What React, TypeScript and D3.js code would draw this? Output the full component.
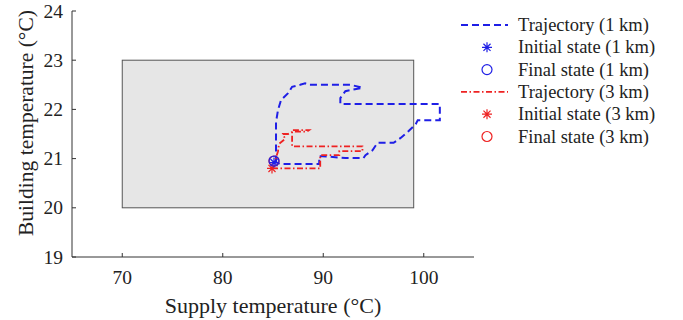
import React from "react";
import * as d3 from "d3";

const xTicks = [70, 80, 90, 100];
const yTicks = [19, 20, 21, 22, 23, 24];
const comfortX = [70, 99];
const comfortY = [20, 23];

const blueX = [85.2, 85.3, 85.3, 85.5, 85.8, 86.5, 86.9, 87.7, 88.2, 88.6, 92.7, 93.9, 92.2, 91.7, 91.7, 101.6, 101.6, 99.4, 99.2, 98.5, 97.7, 97.0, 95.4, 94.9, 94.2, 94.0, 92.2, 89.9, 89.6, 89.6, 85.7, 85.1];
const blueY = [20.93, 20.95, 21.74, 21.99, 22.19, 22.33, 22.46, 22.50, 22.53, 22.50, 22.50, 22.44, 22.37, 22.23, 22.11, 22.11, 21.78, 21.78, 21.70, 21.56, 21.42, 21.32, 21.32, 21.17, 21.07, 21.01, 21.01, 21.05, 21.05, 20.89, 20.89, 20.95];

const redX = [84.9, 89.7, 89.7, 91.6, 91.6, 93.9, 93.9, 86.9, 86.9, 88.6, 88.4, 87.0, 86.5, 86.0, 86.2, 85.6, 85.5, 85.2];
const redY = [20.80, 20.80, 21.07, 21.07, 21.15, 21.15, 21.25, 21.25, 21.58, 21.58, 21.55, 21.55, 21.50, 21.50, 21.40, 21.30, 21.15, 20.95];

const initial1 = [85.1, 20.92];
const final1 = [85.1, 20.95];
const initial3 = [84.9, 20.80];
const final3 = [85.1, 20.95];

const legendLabels = [
  "Trajectory (1 km)",
  "Initial state (1 km)",
  "Final state (1 km)",
  "Trajectory (3 km)",
  "Initial state (3 km)",
  "Final state (3 km)",
];

const BLUE = "#1f1fe6";
const RED = "#ee2222";
const FONT = "'Liberation Serif', 'Times New Roman', serif";

function Asterisk({ cx, cy, r, color }: { cx: number; cy: number; r: number; color: string }) {
  const d: string[] = [];
  for (let i = 0; i < 4; i++) {
    const a = (i * Math.PI) / 4;
    const dx = Math.cos(a) * r;
    const dy = Math.sin(a) * r;
    d.push(`M${cx - dx},${cy - dy}L${cx + dx},${cy + dy}`);
  }
  return <path d={d.join("")} stroke={color} strokeWidth={1.2} fill="none" />;
}

export default function App() {
  const W = 683;
  const H = 320;
  const x = d3.scaleLinear().domain([65, 105]).range([72, 474]);
  const y = d3.scaleLinear().domain([19, 24]).range([257, 11]);

  const line = d3
    .line<[number, number]>()
    .x((d) => x(d[0]))
    .y((d) => y(d[1]));

  const bluePts = blueX.map((v, i) => [v, blueY[i]] as [number, number]);
  const redPts = redX.map((v, i) => [v, redY[i]] as [number, number]);

  const axisColor = "#333";
  const legendX = 518;
  const legendY0 = 25;
  const legendStep = 22.3;

  return (
    <svg width={W} height={H} style={{ position: "absolute", left: 0, top: 0, background: "#fff" }}>
      <rect x={0} y={0} width={W} height={H} fill="#fff" />
      {/* comfort region */}
      <rect
        x={x(comfortX[0])}
        y={y(comfortY[1])}
        width={x(comfortX[1]) - x(comfortX[0])}
        height={y(comfortY[0]) - y(comfortY[1])}
        fill="#e6e6e6"
        stroke="#555"
        strokeWidth={1}
      />
      {/* axes */}
      <line x1={x(65)} x2={x(105)} y1={y(19)} y2={y(19)} stroke={axisColor} strokeWidth={1} />
      <line x1={x(65)} x2={x(65)} y1={y(19)} y2={y(24)} stroke={axisColor} strokeWidth={1} />
      {xTicks.map((t) => (
        <g key={"xt" + t}>
          <line x1={x(t)} x2={x(t)} y1={y(19)} y2={y(19) - 4} stroke={axisColor} />
          <text
            x={x(t)}
            y={284}
            textAnchor="middle"
            fontFamily={FONT}
            fontSize={19.5}
            fill="#222"
          >
            {t}
          </text>
        </g>
      ))}
      {yTicks.map((t) => (
        <g key={"yt" + t}>
          <line x1={x(65)} x2={x(65) + 4} y1={y(t)} y2={y(t)} stroke={axisColor} />
          <text
            x={63}
            y={y(t) + 6.5}
            textAnchor="end"
            fontFamily={FONT}
            fontSize={19.5}
            fill="#222"
          >
            {t}
          </text>
        </g>
      ))}
      <text x={273} y={313} textAnchor="middle" fontFamily={FONT} fontSize={22} fill="#222">
        Supply temperature (°C)
      </text>
      <text
        transform={`translate(33,${123}) rotate(-90)`}
        textAnchor="middle"
        fontFamily={FONT}
        fontSize={21.5}
        fill="#222"
      >
        Building temperature (°C)
      </text>

      {/* trajectories */}
      <path d={line(bluePts) || ""} fill="none" stroke={BLUE} strokeWidth={2} strokeDasharray="7,4" />
      <path d={line(redPts) || ""} fill="none" stroke={RED} strokeWidth={1.8} strokeDasharray="6,2.5,1.5,2.5" />

      <Asterisk cx={x(initial3[0])} cy={y(initial3[1])} r={5} color={RED} />
      <Asterisk cx={x(initial1[0])} cy={y(initial1[1])} r={5} color={BLUE} />
      <circle cx={x(final3[0])} cy={y(final3[1])} r={5} fill="none" stroke={RED} strokeWidth={1.2} />
      <circle cx={x(final1[0])} cy={y(final1[1])} r={5} fill="none" stroke={BLUE} strokeWidth={1.2} />

      {/* legend */}
      {legendLabels.map((lab, i) => {
        const cy = legendY0 + i * legendStep;
        const color = i < 3 ? BLUE : RED;
        const kind = i % 3;
        return (
          <g key={lab}>
            {kind === 0 && (
              <line
                x1={461}
                x2={508}
                y1={cy}
                y2={cy}
                stroke={color}
                strokeWidth={i < 3 ? 2 : 1.8}
                strokeDasharray={i < 3 ? "7,4" : "6,2.5,1.5,2.5"}
              />
            )}
            {kind === 1 && <Asterisk cx={487} cy={cy} r={5} color={color} />}
            {kind === 2 && (
              <circle cx={487} cy={cy} r={5} fill="none" stroke={color} strokeWidth={1.2} />
            )}
            <text x={legendX} y={cy + 6} fontFamily={FONT} fontSize={18.5} fill="#222">
              {lab}
            </text>
          </g>
        );
      })}
    </svg>
  );
}
